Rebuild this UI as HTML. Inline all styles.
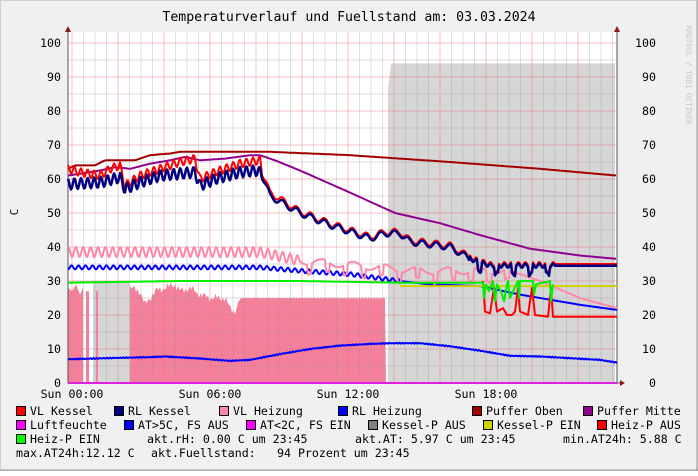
<!DOCTYPE html><html><head><style>
body{margin:0;background:#fff}
svg text{font-family:"DejaVu Sans Mono","Liberation Mono",monospace;}
</style></head><body>
<svg id="s" width="698" height="471" xmlns="http://www.w3.org/2000/svg">
<rect x="0" y="0" width="698" height="471" fill="#f0f0f0"/>
<rect x="0.5" y="0.5" width="697" height="470" fill="none" stroke="#cfcfcf"/>
<line x1="0" y1="470" x2="698" y2="470" stroke="#9a9a9a"/>
<line x1="697" y1="0" x2="697" y2="471" stroke="#9a9a9a"/>
<rect x="68" y="32" width="549" height="351" fill="#fff"/>
<g id="bg"></g>
<g id="grid"></g>
<g id="series"></g>
<g font-size="11.6" fill="#000">
<text x="349" y="21" text-anchor="middle" font-size="13.2">Temperaturverlauf und Fuellstand am: 03.03.2024</text>
<text x="18" y="212" font-size="11" transform="rotate(-90 18 212)" text-anchor="middle">C</text>
<text x="686" y="75" font-size="7.5" fill="#c8c8c8" transform="rotate(90 686 75)" text-anchor="middle">RRDTOOL / TOBI OETIKER</text>
</g>
<g id="labels" font-size="11.6"></g>
<g id="legend" font-size="11.6"></g>
</svg>
<script>
const S=document.getElementById('s'),NS='http://www.w3.org/2000/svg';
function el(p,t,a,txt){const e=document.createElementNS(NS,t);for(const k in a)e.setAttribute(k,a[k]);if(txt!=null)e.textContent=txt;document.getElementById(p).appendChild(e);return e;}
const Y=v=>383-v*3.4;
const X0=68,X1=617;
function interp(pts,x){for(let i=0;i<pts.length-1;i++){if(x>=pts[i][0]&&x<=pts[i+1][0]){const t=(x-pts[i][0])/(pts[i+1][0]-pts[i][0]||1);return pts[i][1]+t*(pts[i+1][1]-pts[i][1]);}}return x<pts[0][0]?pts[0][1]:pts[pts.length-1][1];}
function path(fn,x0,x1,step){let d='';for(let x=x0;x<=x1;x+=step){const v=fn(x);d+=(d?'L':'M')+x.toFixed(1)+','+Y(v).toFixed(1);}return d;}
function line(d,c,w){el('series','path',{d:d,fill:'none',stroke:c,'stroke-width':w,'stroke-linejoin':'round'});}
el('bg','path',{d:`M93,${Y(0)}L93,${Y(30)}L130,${Y(30)}L130,${Y(0)}Z`,fill:'#d6d6d6'});
el('bg','path',{d:`M388,${Y(0)}L388,${Y(86)}L391,${Y(94)}L615,${Y(94)}L615,${Y(0)}Z`,fill:'#d6d6d6'});
let pa=`M68,${Y(0)}`;
const pk=[[68,28],[72,27],[76,29],[80,26],[83,28]];
pk.forEach(p=>pa+=`L${p[0]},${Y(p[1])}`);pa+=`L83,${Y(0)}Z`;
el('bg','path',{d:pa,fill:'#f5809c'});
el('bg','path',{d:`M86,${Y(0)}L86,${Y(27)}L89,${Y(27)}L89,${Y(0)}Z`,fill:'#f5809c'});
el('bg','path',{d:`M96,${Y(0)}L96,${Y(27)}L98,${Y(27)}L98,${Y(0)}Z`,fill:'#f5809c'});
const ph=[[130,28],[140,27],[145,23],[150,25],[155,27],[165,28],[175,29],[180,27],[190,28],[200,26],[210,25],[225,25],[230,22],[235,21],[238,23],[240,25],[290,25],[320,25],[385,25],[385,18],[387,0]];
let pd=`M130,${Y(0)}`;
for(let x=130;x<=385;x+=1.5){let v=interp(ph,x)+Math.sin(x*1.7)*0.8+Math.sin(x*0.53)*0.6;if(x>240)v=25+Math.sin(x*2.1)*0.3;pd+=`L${x},${Y(v)}`;}
pd+=`L386,${Y(0)}Z`;el('bg','path',{d:pd,fill:'#f5809c'});
for(let i=0;i<=48;i++){const x=72+i*11.5;if(x<X0||x>X1)continue;const maj=i%4==0;el('grid','line',{x1:x,y1:32,x2:x,y2:383,stroke:maj?'rgba(230,120,120,0.45)':'rgba(150,150,150,0.3)','stroke-width':1});}
for(let v=0;v<=100;v+=5){const y=Y(v);el('grid','line',{x1:X0,y1:y,x2:X1,y2:y,stroke:v%10==0?'rgba(230,120,120,0.45)':'rgba(150,150,150,0.3)'});
 if(v%10==0){el('labels','text',{x:61,y:y+4,'text-anchor':'end'},v);el('labels','text',{x:656,y:y+4,'text-anchor':'end'},v);}}
el('grid','line',{x1:68,y1:28,x2:68,y2:383,stroke:'#555'});
el('grid','line',{x1:617,y1:28,x2:617,y2:383,stroke:'#555'});
el('grid','line',{x1:68,y1:383,x2:622,y2:383,stroke:'#555'});
el('grid','path',{d:'M65,32L71,32L68,26Z',fill:'#8b1a1a'});
el('grid','path',{d:'M614,32L620,32L617,26Z',fill:'#8b1a1a'});
el('grid','path',{d:'M620,380L620,386L625,383Z',fill:'#8b1a1a'});
[[72,'Sun 00:00'],[210,'Sun 06:00'],[348,'Sun 12:00'],[486,'Sun 18:00']].forEach(a=>el('labels','text',{x:a[0],y:398,'text-anchor':'middle'},a[1]));
line(`M68,${Y(0)}L617,${Y(0)}`,'#e020e0',2);
const at=[[68,7],[120,7.4],[150,7.6],[165,7.8],[200,7.2],[230,6.5],[250,6.8],[280,8.5],[310,10],[340,11],[370,11.5],[390,11.7],[420,11.7],[450,10.8],[480,9.5],[510,8],[540,7.8],[570,7.3],[600,6.8],[617,6]];
line(path(x=>interp(at,x)+Math.sin(x*2.3)*0.15,68,617,1.5),'#0000ff',2);
const po=[[68,63],[75,64],[95,64],[105,65.5],[135,65.5],[150,67],[170,67.5],[180,68],[250,68],[270,68],[350,67],[450,65],[540,63],[617,61]];
line(path(x=>interp(po,x),68,617,2),'#a00000',2);
const pm=[[68,61],[100,62.5],[115,63.5],[130,63],[150,64.5],[170,65.5],[185,66.5],[200,65.5],[225,66],[250,67],[260,67],[275,65.5],[300,62.5],[350,56],[395,50],[440,47],[480,43.5],[530,39.5],[580,37.5],[617,36.5]];
line(path(x=>interp(pm,x),68,617,2),'#900090',2);
const rh=[[68,34],[260,34],[300,33],[350,32],[400,30],[430,29],[480,28.5],[520,26],[580,23],[617,21.5]];
line(path(x=>interp(rh,x)+(x<400?Math.sin(x*0.9)*0.6:0),68,617,1),'#0000ff',2);
const vh=[[68,38.5],[260,38.5],[300,36],[380,34],[420,33],[510,33],[540,30],[580,25],[617,22]];
line(path(x=>{let v=interp(vh,x);if(x<300)v+=Math.sin(x*0.85)*1.5;else if(x<510)v+=(Math.sin(x*0.35)>0.7?-3:0)+Math.sin(x*0.2);return v;},68,617,1),'#ff88a8',2);
line(`M400,${Y(28.5)}L617,${Y(28.5)}`,'#d0d000',2);
const ha=[[483,30],[485,21],[490,20.5],[494,28],[497,21],[503,22],[507,20],[512,20],[515,21],[518,28],[520,21],[528,20],[532,28],[535,20],[548,19.5],[551,28],[553,19.5],[617,19.5]];
line(path(x=>interp(ha,x),483,617,1),'#ff0000',2);
const hg=[[68,29.5],[180,30],[300,30],[400,29.5],[483,29.5],[484,25],[486,29],[489,27],[493,30],[495,24],[497,29],[501,27],[504,24],[507,29],[508,30],[510,25],[518,30],[519,25],[520,30],[533,30],[534,26],[536,29],[550,30],[551,24],[553,29]];
line(path(x=>interp(hg,x),68,553,1),'#00ee00',2);
const vk=[[68,63],[80,62],[100,61],[110,63],[120,64],[125,58],[140,61],[160,63],[180,65],[195,66],[200,60],[215,62],[240,64.5],[260,65.5],[262,62],[270,56],[300,50.5],[330,47],[350,45],[370,43],[385,44.5],[400,44.5],[410,42],[450,40.5],[470,37],[490,35],[530,35],[540,35],[555,35],[617,35]];
const rk=[[68,58.5],[100,59],[120,60.5],[125,57],[140,59],[160,61],[195,62],[200,58],[215,60],[240,62],[258,62.5],[262,61],[270,55],[300,50],[330,46.5],[350,44.5],[370,42.5],[385,44],[400,44],[410,41.5],[450,40],[470,36.5],[490,34.5],[530,34.5],[540,34.5],[555,34.5],[617,34.5]];
function kfn(pts,amp){return x=>{let v=interp(pts,x);if(x<262)v+=Math.sin(x*0.95)*amp;else if(x<470)v+=Math.sin(x*0.45)*0.9;else if(x<555){v+=(Math.sin(x*0.37)>0.75?-2.5:0)+Math.sin(x*0.9)*0.6;}return v;};}
line(path(kfn(vk,1.2),68,617,1),'#ff0000',2);
line(path(kfn(rk,1.6),68,617,1),'#000080',2.5);
function box(x,y,c){el('legend','rect',{x:x+.5,y:y+.5,width:9,height:9,fill:c,stroke:'#000'});}
function tx(x,y,t){el('legend','text',{x:x,y:y},t);}
const r1=[[16,'#ff0000','VL Kessel'],[114,'#000080','RL Kessel'],[219,'#ff88a8','VL Heizung'],[338,'#0000ff','RL Heizung'],[472,'#a00000','Puffer Oben'],[583,'#900090','Puffer Mitte']];
r1.forEach(a=>{box(a[0],406,a[1]);tx(a[0]+14,415,a[2]);});
const r2=[[16,'#ff00ff','Luftfeuchte'],[124,'#0000ff','AT>5C, FS AUS'],[246,'#ff00ff','AT<2C, FS EIN'],[368,'#808080','Kessel-P AUS'],[483,'#d0d000','Kessel-P EIN'],[597,'#ff0000','Heiz-P AUS']];
r2.forEach(a=>{box(a[0],420,a[1]);tx(a[0]+14,429,a[2]);});
box(16,434,'#00ff00');tx(30,443,'Heiz-P EIN');
tx(147,443,'akt.rH: 0.00 C um 23:45');tx(355,443,'akt.AT: 5.97 C um 23:45');tx(563,443,'min.AT24h: 5.88 C');
tx(16,457,'max.AT24h:12.12 C');tx(151,457,'akt.Fuellstand:');tx(277,457,'94 Prozent um 23:45');
</script>
</body></html>
